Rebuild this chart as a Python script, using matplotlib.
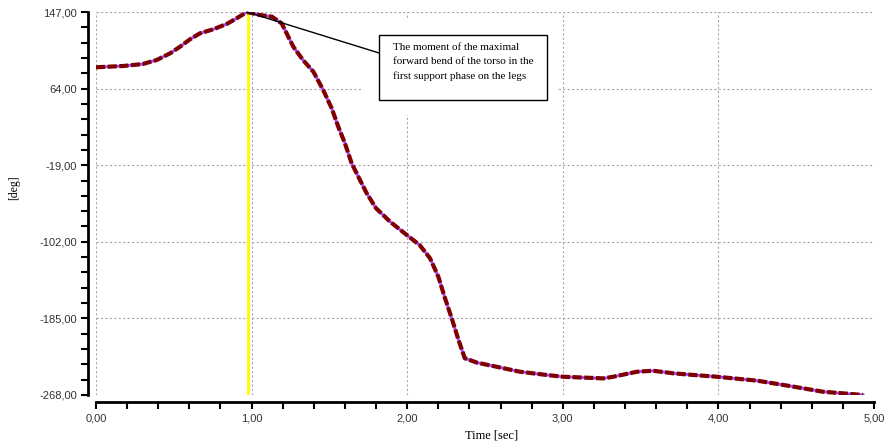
import matplotlib
matplotlib.use('Agg')
import matplotlib.pyplot as plt
from matplotlib.ticker import MultipleLocator, AutoMinorLocator, FuncFormatter
from matplotlib.patches import Rectangle

# angle of the torso
time_sec = [0.00, 0.175, 0.30, 0.39, 0.476, 0.54, 0.604, 0.668, 0.754, 0.84, 0.904, 0.97,
            1.054, 1.13, 1.193, 1.225, 1.268, 1.33, 1.397, 1.46, 1.515, 1.557, 1.60, 1.643,
            1.686, 1.74, 1.80, 1.89, 1.997, 2.08, 2.147, 2.20, 2.24, 2.286, 2.33, 2.37,
            2.45, 2.575, 2.725, 2.896, 3.00, 3.26, 3.325, 3.476, 3.58, 3.71, 3.84, 3.99,
            4.25, 4.46, 4.67, 4.93]
angle_deg = [87.1, 88.5, 90.6, 95.0, 102.2, 109.4, 117.4, 123.9, 128.3, 134.0, 140.2, 147.0,
             143.7, 142.0, 134.7, 123.9, 109.4, 95.0, 82.3, 62.5, 42.6, 22.7, 4.7, -17.0,
             -31.5, -49.5, -65.7, -80.2, -94.6, -105.5, -119.9, -139.8, -161.5, -184.9, -208.4, -228.2,
             -233.0, -237.4, -242.8, -246.3, -248.2, -250.0, -248.2, -242.8, -241.7, -244.5, -246.3, -248.2,
             -252.5, -258.3, -264.4, -268.0]
y_ticks = [147, 64, -19, -102, -185, -268]
moment_t = 0.975
note = "The moment of the maximal\nforward bend of the torso in the\nfirst support phase on the legs"

fig = plt.figure(figsize=(8.88, 4.46), dpi=100)
ax = fig.add_axes([96/888, 1-395/446, 778/888, 383/446])

ax.set_xlim(0, 5)
ax.set_ylim(-268, 147)
ax.set_yticks(y_ticks)
ax.xaxis.set_major_locator(MultipleLocator(1))
ax.xaxis.set_minor_locator(AutoMinorLocator(5))
ax.yaxis.set_minor_locator(AutoMinorLocator(5))
fmt = FuncFormatter(lambda v, p: ('%.2f' % v).replace('.', ','))
ax.xaxis.set_major_formatter(fmt)
ax.yaxis.set_major_formatter(fmt)

ax.grid(True, which='major', color='#a8a8a8', linestyle=(0, (2, 2)), linewidth=0.8)
ax.set_axisbelow(True)
for s in ['top', 'right']:
    ax.spines[s].set_visible(False)
# spines sit a few pixels away from the plot area
ax.spines['left'].set_position(('outward', 5.8))
ax.spines['bottom'].set_position(('outward', 5.0))
ax.spines['left'].set_linewidth(2)
ax.spines['bottom'].set_linewidth(2)
ax.tick_params(which='both', direction='out', length=5, width=1.5, color='black',
               labelsize=8, labelcolor='#333333', pad=3)
for lab in ax.get_xticklabels() + ax.get_yticklabels():
    lab.set_fontfamily('Liberation Sans')

# white area behind the note (hides the grid)
ax.add_patch(Rectangle((0.343, 0.731), 0.2495, 0.248, transform=ax.transAxes,
                       facecolor='white', edgecolor='none', zorder=1.5))

ax.axvline(moment_t, color='#ffff00', linewidth=2, zorder=2)
ax.plot(time_sec, angle_deg, color='#a040ff', linewidth=2.0, zorder=3)
ax.plot(time_sec, angle_deg, color='#800000', linewidth=3, linestyle=(0, (2.2, 0.6)), zorder=4)

peak_i = angle_deg.index(max(angle_deg))
ax.annotate('', xy=(time_sec[peak_i], angle_deg[peak_i]), xycoords='data',
            xytext=(0.3638, 0.893), textcoords='axes fraction',
            arrowprops=dict(arrowstyle='-', color='black', linewidth=1, shrinkA=0, shrinkB=0),
            zorder=5)
ax.add_patch(Rectangle((0.3638, 0.770), 0.2159, 0.170, transform=ax.transAxes,
                       facecolor='white', edgecolor='black', linewidth=1, zorder=6))
ax.text(0.3817, 0.92, note, transform=ax.transAxes, ha='left', va='top',
        fontsize=8, family='Liberation Serif', linespacing=1.75, zorder=7)

fig.text(492/888, 1-435/446, 'Time [sec]', ha='center', va='center',
         fontsize=9, family='Liberation Serif')
fig.text(14/888, 1-188/446, '[deg]', ha='center', va='center', rotation=90,
         fontsize=8.5, family='Liberation Serif')

fig.savefig('out.png', dpi=100)
